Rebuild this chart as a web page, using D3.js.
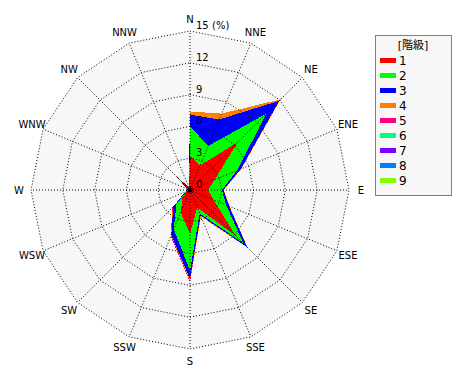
<!DOCTYPE html>
<html>
<head>
<meta charset="utf-8">
<script src="https://cdn.jsdelivr.net/npm/d3@7"></script>
<style>
  body { margin: 0; background: #fff; }
  text { font-family: "DejaVu Sans", "Noto Sans CJK JP", sans-serif; }
</style>
</head>
<body>
<div id="rose"></div>
<script>
const directions = ["N", "NNE", "NE", "ENE", "E", "ESE", "SE", "SSE", "S", "SSW", "SW", "WSW", "W", "WNW", "NW", "NNW"];
const classNames = ["1", "2", "3", "4", "5", "6", "7", "8", "9"];
const classColors = ["#ff0000", "#00ff00", "#0000ff", "#ff8000", "#ff0080", "#00ff80", "#8000ff", "#0080ff", "#80ff00"];
const ringTicks = [3, 6, 9, 12, 15];
const tickLabels = ["0", "3", "6", "9", "12", "15"];

// frequency (%) per class, per direction (N, NNE, ... NNW)
const class1 = [3.2, 2.5, 6.4, 2.5, 1.7, 2.4, 6.1, 1.8, 4.1, 2.3, 1.0, 0.3, 0.2, 0.2, 1.2, 0.2];
const class2 = [2.8, 2.0, 3.8, 2.3, 1.3, 1.3, 1.0, 0.6, 3.5, 1.7, 0.8, 0.1, 0.1, 0.0, 0.3, 0.0];
const class3 = [1.1, 2.7, 1.7, 0.4, 0.15, 0.3, 0.5, 0.2, 0.8, 0.6, 0.45, 0.1, 0.0, 0.1, 0.3, 0.1];
const class4 = [0.3, 0.6, 0.2, 0.05, 0.05, 0.05, 0.1, 0.1, 0.2, 0.05, 0.05, 0, 0, 0, 0.05, 0];
const class5 = [0, 0, 0, 0, 0, 0, 0, 0, 0.1, 0.1, 0.05, 0, 0, 0, 0.05, 0];
const class6 = [0, 0, 0, 0, 0, 0, 0, 0, 0, 0, 0, 0, 0, 0, 0, 0];
const class7 = [0, 0, 0, 0, 0, 0, 0, 0, 0, 0, 0, 0, 0, 0, 0, 0];
const class8 = [0, 0, 0, 0, 0, 0, 0, 0, 0, 0, 0, 0, 0, 0, 0, 0];
const class9 = [0, 0, 0, 0, 0, 0, 0, 0, 0, 0, 0, 0, 0, 0, 0, 0];
const classValues = [class1, class2, class3, class4, class5, class6, class7, class8, class9];

let width = 470, height = 380;
let cx = 190, cy = 190, R = 159;

let svg = d3.select("#rose").append("svg")
  .attr("width", width)
  .attr("height", height);

let r = d3.scaleLinear().domain([0, 15]).range([0, R]);
let ang = d3.scaleLinear().domain([0, directions.length]).range([0, 2 * Math.PI]);

let g = svg.append("g").attr("transform", `translate(${cx},${cy})`);

let ring = v => d3.lineRadial()
  .angle((d, i) => ang(i))
  .radius(() => r(v))
  .curve(d3.curveLinearClosed)(directions);

// background
g.append("path")
  .attr("d", ring(15))
  .attr("fill", "#f7f7f7");

// cumulative values
let cumul = [];
classValues.forEach((vals, k) => {
  cumul.push(vals.map((v, i) => v + (k > 0 ? cumul[k - 1][i] : 0)));
});

let area = d3.lineRadial()
  .angle((d, i) => ang(i))
  .radius(d => r(d))
  .curve(d3.curveLinearClosed);

for (let k = cumul.length - 1; k >= 0; k--) {
  g.append("path")
    .attr("d", area(cumul[k]))
    .attr("fill", classColors[k])
    .attr("shape-rendering", "crispEdges");
}

// grid on top
ringTicks.forEach(v => {
  g.append("path")
    .attr("d", ring(v))
    .attr("fill", "none")
    .attr("stroke", "#000")
    .attr("stroke-width", 1)
    .attr("stroke-dasharray", "1,2");
});

directions.forEach((d, i) => {
  let a = ang(i);
  g.append("line")
    .attr("x1", 0).attr("y1", 0)
    .attr("x2", r(15) * Math.sin(a))
    .attr("y2", -r(15) * Math.cos(a))
    .attr("stroke", "#000")
    .attr("stroke-dasharray", "1,2");
  g.append("text")
    .attr("x", 171 * Math.sin(a))
    .attr("y", -171 * Math.cos(a))
    .attr("text-anchor", "middle")
    .attr("dominant-baseline", "central")
    .attr("font-size", 10)
    .attr("fill", "#000")
    .text(d);
});

// radial tick labels
tickLabels.forEach(t => {
  g.append("text")
    .attr("x", 6)
    .attr("y", -r(+t) - 2)
    .attr("font-size", 10)
    .attr("fill", "#000")
    .text(t);
});
g.append("text")
  .attr("x", 22)
  .attr("y", -r(15) - 2)
  .attr("font-size", 10)
  .attr("fill", "#000")
  .text("(%)");

g.append("circle").attr("r", 2.5).attr("fill", "#000");

// legend
let legend = svg.append("g").attr("transform", "translate(375,35)");
legend.append("rect")
  .attr("x", 0.5).attr("y", 0.5)
  .attr("width", 76).attr("height", 160)
  .attr("fill", "#f7f7f7")
  .attr("stroke", "#000")
  .attr("stroke-dasharray", "1,1");
legend.append("text")
  .attr("x", 38).attr("y", 14)
  .attr("text-anchor", "middle")
  .attr("font-size", 11)
  .attr("font-family", "'Noto Sans CJK JP', sans-serif")
  .text("[階級]");
classNames.forEach((c, i) => {
  legend.append("rect")
    .attr("x", 5).attr("y", 23 + i * 15)
    .attr("width", 16).attr("height", 5)
    .attr("fill", classColors[i]);
  legend.append("text")
    .attr("x", 24).attr("y", 25.5 + i * 15)
    .attr("dominant-baseline", "central")
    .attr("font-size", 12)
    .text(c);
});
</script>
</body>
</html>
